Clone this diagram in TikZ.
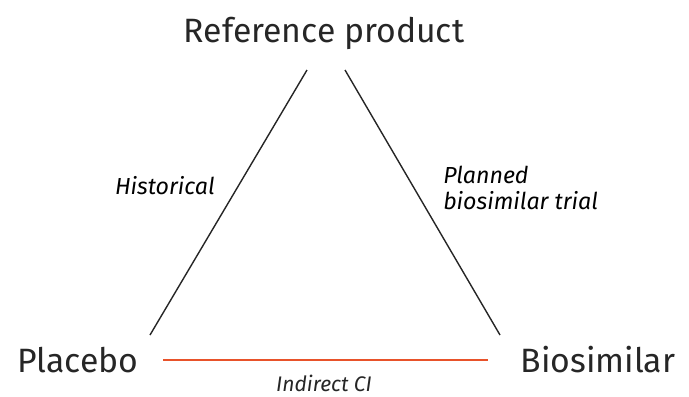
\documentclass[tikz,border=0pt]{standalone}
\usepackage{fontspec}
\setmainfont{Fira Sans}
\usepackage{tikz}

\begin{document}
\begin{tikzpicture}[x=0.025cm,y=-0.025cm]
    \tikzstyle{arm}=[draw=black!85,line width=1pt]
    \tikzstyle{corner}=[font=\fontsize{24}{28}\selectfont\color{black!85},inner sep=0pt]
    \tikzstyle{comparison}=[font=\fontsize{15}{19}\selectfont\itshape\color{black!85},inner sep=0pt]
    \tikzstyle{arm label}=[comparison, font=\fontsize{16.5}{19}\selectfont\itshape]
    \definecolor{indirect}{RGB}{232,82,42}
    \useasboundingbox (0,0) rectangle (689,396);
    % Draw the three products
    \node[corner] (ref) at (324,33) {Reference product};
    \node[corner] (placebo) at (78,360) {Placebo};
    \node[corner] (biosim) at (598,360) {Biosimilar};
    % Ends of the arms
    \coordinate (ref-l) at (307,70);
    \coordinate (ref-r) at (345,70);
    \coordinate (placebo-t) at (150,335);
    \coordinate (biosim-t) at (500,335);
    \coordinate (placebo-r) at (163,360);
    \coordinate (biosim-l) at (488,360);
    % Draw the arms
    \path[arm] (placebo-t) -- (ref-l);
    \path[arm] (biosim-t) -- (ref-r);
    \path[arm, draw=indirect] (placebo-r) -- (biosim-l);
    % Label the arms
    \node[arm label, anchor=east] (hist) at (215,186) {Historical};
    \node[arm label, anchor=west, align=left] (trial) at (443,188) {Planned\\biosimilar trial};
    \node[comparison] (ci) at (324,383) {Indirect CI};
\end{tikzpicture}
\end{document}
